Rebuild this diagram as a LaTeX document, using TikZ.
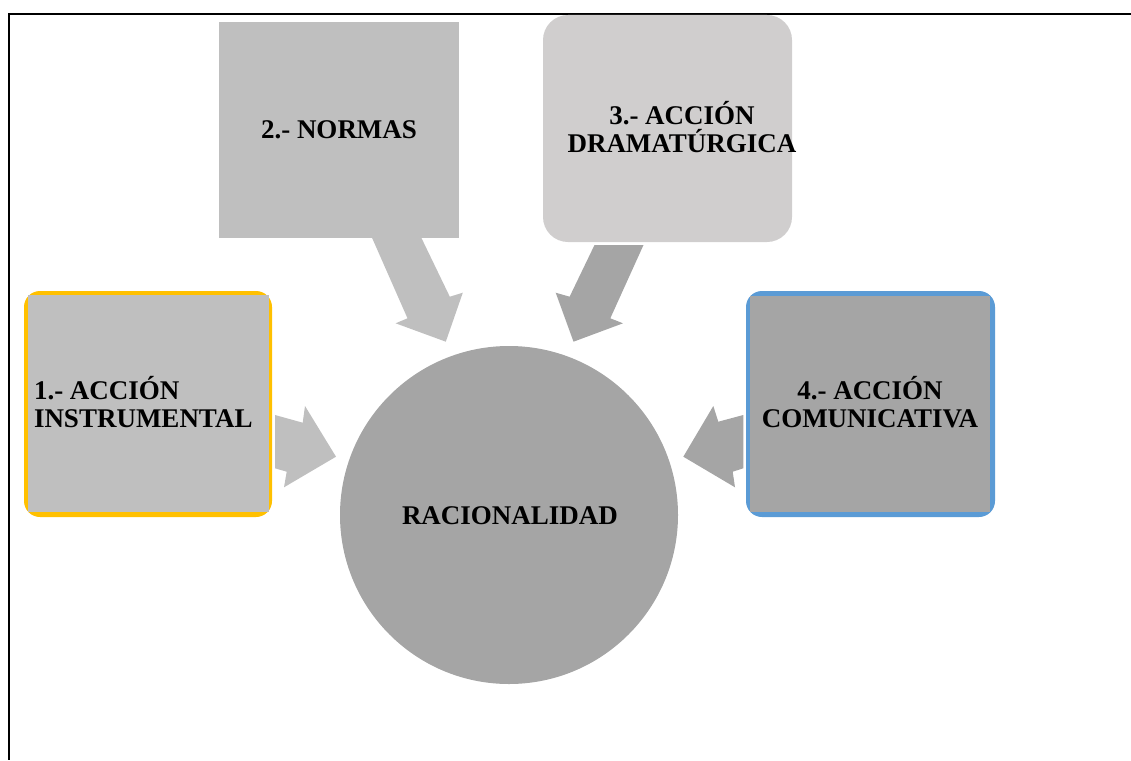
\documentclass[tikz,border=0pt]{standalone}
\usepackage{fontspec}
\setmainfont{Liberation Serif}
\definecolor{cyellow}{HTML}{FFC000}
\definecolor{cblue}{HTML}{5B9BD5}
\definecolor{gA}{HTML}{BFBFBF}
\definecolor{gB}{HTML}{A5A5A5}
\definecolor{gC}{HTML}{D0CECE}
\begin{document}
\begin{tikzpicture}[x=1pt,y=-1pt,
  plainbox/.style={inner sep=0pt, outer sep=0pt, draw=none},
  lbl/.style={inner sep=0pt, outer sep=0pt, align=center, font=\fontsize{27}{28}\selectfont\bfseries, text=black},
  blockarrow/.style={draw=none}]
\useasboundingbox (0,0) rectangle (1131,760);
% frame
\coordinate (fr1) at (1131,14);
\coordinate (fr2) at (9,14);
\coordinate (fr3) at (9,760);
\draw[line width=2.6pt] (fr1) -- (fr2) -- (fr3);

% box 1
\node[plainbox, fill=cyellow, rounded corners=16pt, minimum width=248pt, minimum height=226pt] (b1o) at (148,404) {};
\node[plainbox, fill=gA, minimum width=241pt, minimum height=217pt] (b1) at (148.5,403.5) {};
% box 4
\node[plainbox, fill=cblue, rounded corners=16pt, minimum width=249pt, minimum height=226pt] (b4o) at (870.5,404) {};
\node[plainbox, fill=gB, minimum width=240pt, minimum height=216pt] (b4) at (870,404) {};
% box 2
\node[plainbox, fill=gA, minimum width=240pt, minimum height=216pt] (b2) at (339,130) {};
% box 3
\node[plainbox, fill=gC, rounded corners=25pt, minimum width=249pt, minimum height=227pt] (b3) at (667.5,128.5) {};
% circle
\node[plainbox, fill=gB, circle, minimum size=338pt] (c) at (509,515) {};

% block arrows
\fill[gA] (275,415) -- (302.7,422.7) -- (305,406) -- (336,456.7) -- (284,487.3) -- (286.7,471.7) -- (275,468.3) -- cycle;
\fill[gB] (743.3,415) -- (718.3,421.7) -- (713.3,406) -- (683.3,456.7) -- (735,487.3) -- (732.7,471.7) -- (743.3,468.3) -- cycle;
\fill[gA] (372,237.7) -- (421.3,237.7) -- (449.8,296.7) -- (462.8,292.7) -- (445.8,341.7) -- (395.6,323.3) -- (407.5,318.3) -- cycle;
\fill[gB] (594.5,245) -- (643.5,245) -- (610.3,318.3) -- (623,323.3) -- (573.5,341.7) -- (555.7,292.7) -- (569.6,296.7) -- cycle;

% labels (base = baseline of the last line)
\node[lbl, align=left, anchor=base west] (t1) at (34,427) {1.- ACCIÓN\\INSTRUMENTAL};
\node[lbl, anchor=base] (t2) at (339,138) {2.- NORMAS};
\node[lbl, anchor=base] (t3) at (682,152) {3.- ACCIÓN\\DRAMATÚRGICA};
\node[lbl, anchor=base] (t4) at (870,427) {4.- ACCIÓN\\COMUNICATIVA};
\node[lbl, anchor=base] (tc) at (510,524) {RACIONALIDAD};
\end{tikzpicture}
\end{document}
